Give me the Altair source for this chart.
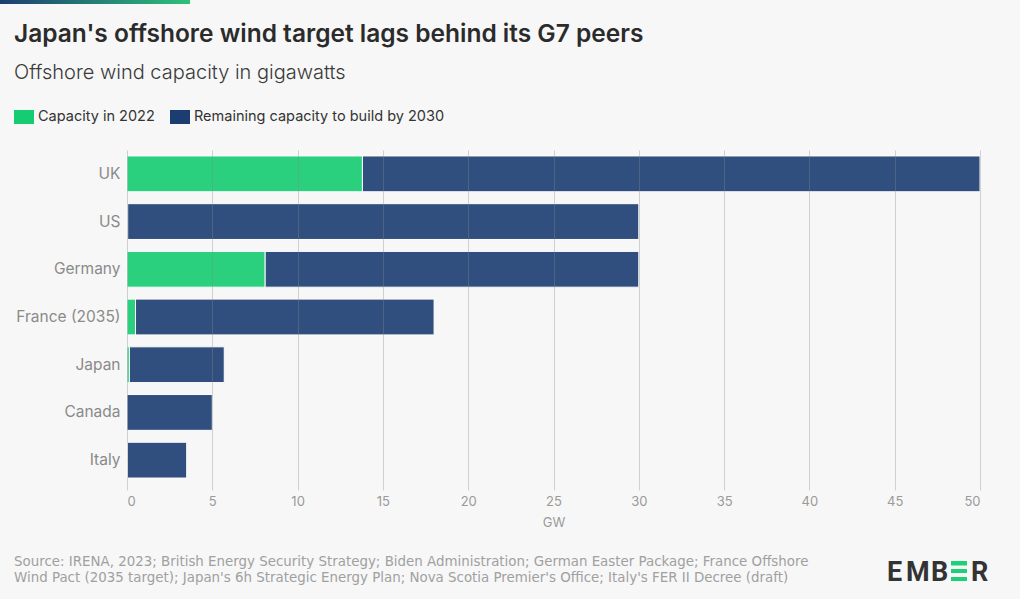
import altair as alt
import pandas as pd

# ---- data ----
countries = ["UK", "US", "Germany", "France (2035)", "Japan", "Canada", "Italy"]
cap_2022 = [13.8, 0.04, 8.1, 0.5, 0.14, 0.0, 0.03]
remaining_2030 = [36.2, 29.96, 21.9, 17.5, 5.56, 5.0, 3.47]
series_names = ["Capacity in 2022", "Remaining capacity to build by 2030"]
series_colors = ["#15cc72", "#1c3d71"]
x_ticks = [0, 5, 10, 15, 20, 25, 30, 35, 40, 45, 50]

title_text = "Japan's offshore wind target lags behind its G7 peers"
subtitle_text = "Offshore wind capacity in gigawatts"
source_lines = [
    "Source: IRENA, 2023; British Energy Security Strategy; Biden Administration; German Easter Package; France Offshore",
    "Wind Pact (2035 target); Japan's 6h Strategic Energy Plan; Nova Scotia Premier's Office; Italy's FER II Decree (draft)",
]

rows = []
for i, c in enumerate(countries):
    rows.append({"country": c, "series": series_names[0], "order": 0, "value": cap_2022[i]})
    rows.append({"country": c, "series": series_names[1], "order": 1, "value": remaining_2030[i]})
df = pd.DataFrame(rows)

FONT = "Inter"
OX, OY = 127, 150  # plot origin inside the canvas
W, H = 853, 334

bars = alt.Chart(df).mark_bar(opacity=0.9, stroke="white", strokeWidth=1).encode(
    y=alt.Y("country:N", sort=countries, title=None,
            scale=alt.Scale(paddingInner=0.25, paddingOuter=0.125),
            axis=alt.Axis(ticks=False, domain=False, grid=False, labelFontSize=15.5,
                          labelColor="#8a8a8a", labelPadding=7, labelFont=FONT)),
    x=alt.X("value:Q", stack="zero", title="GW",
            scale=alt.Scale(domain=[0, 50], nice=False),
            axis=alt.Axis(values=x_ticks, grid=True, gridColor="#888888", gridOpacity=0.35,
                          domain=False, ticks=True, tickColor="#cfcfcf", tickSize=6,
                          labelFontSize=13, labelColor="#9a9a9a", labelPadding=5,
                          titleFontSize=13, titleColor="#9a9a9a", titleFontWeight="normal",
                          titlePadding=8, labelFont=FONT, titleFont=FONT, zindex=1)),
    color=alt.Color("series:N", scale=alt.Scale(domain=series_names, range=series_colors),
                    legend=alt.Legend(title=None, orient="none", direction="horizontal",
                                      legendX=14 - OX, legendY=107 - OY,
                                      symbolType="M-1,-0.7H1V0.7H-1Z", symbolSize=400,
                                      symbolOpacity=1, symbolStrokeWidth=0,
                                      labelFontSize=14.5, labelColor="#333333", labelFont=FONT,
                                      labelLimit=400, columnPadding=15, labelOffset=4)),
    order=alt.Order("order:Q"),
)

def text_layer(txt, x, y, size, color, weight="normal", align="left", font=FONT):
    return alt.Chart(pd.DataFrame({"t": [txt]})).mark_text(
        align=align, baseline="alphabetic", fontSize=size, color=color,
        fontWeight=weight, font=font
    ).encode(text="t:N", x=alt.value(x - OX), y=alt.value(y - OY))

layers = [bars]
layers.append(text_layer(title_text, 14, 42, 24.5, "#2b2b2b", weight=600))
layers.append(text_layer(subtitle_text, 14, 79, 20, "#3a3a3a", weight=300))
layers.append(text_layer(source_lines[0], 14, 566, 13.4, "#a0a0a0", font="DejaVu Sans"))
layers.append(text_layer(source_lines[1], 14, 581.5, 13.4, "#a0a0a0", font="DejaVu Sans"))

# top gradient accent
grad = alt.Chart(pd.DataFrame({"a": [0]})).mark_rect(
    fill=alt.Gradient(gradient="linear",
                      stops=[alt.GradientStop(color="#1c3d71", offset=0),
                             alt.GradientStop(color="#2fc07a", offset=1)],
                      x1=0, x2=1, y1=0, y2=0)
).encode(x=alt.value(0 - OX), x2=alt.value(190 - OX), y=alt.value(0 - OY), y2=alt.value(4 - OY))
layers.append(grad)

# EMBER logo
logo_letters = [("E", 887), ("M", 906), ("B", 931), ("R", 971)]
for letter, lx in logo_letters:
    layers.append(text_layer(letter, lx, 581, 27, "#333333", weight="bold", font="Roboto"))
bar_rows = [(561, 565.5), (569, 573), (577, 581)]
for y1, y2 in bar_rows:
    layers.append(alt.Chart(pd.DataFrame({"a": [0]})).mark_rect(color="#1ecf78").encode(
        x=alt.value(951 - OX), x2=alt.value(967 - OX), y=alt.value(y1 - OY), y2=alt.value(y2 - OY)))

chart = alt.layer(*layers).properties(
    width=W, height=H,
    autosize=alt.AutoSizeParams(type="none"),
    padding={"left": OX, "top": OY, "right": 1020 - OX - W, "bottom": 599 - OY - H},
    background="#f7f7f7",
).configure_view(stroke=None)

chart.save("out.html", embed_options={"renderer": "svg", "actions": False})
